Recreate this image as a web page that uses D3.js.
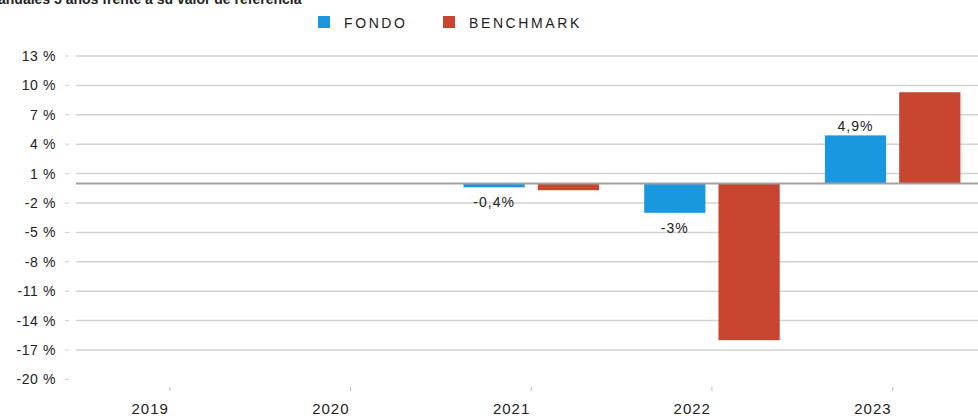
<!DOCTYPE html>
<html>
<head>
<meta charset="utf-8">
<script src="https://cdn.jsdelivr.net/npm/d3@7"></script>
<style>
  body { margin: 0; background: #fff; }
  svg { display: block; font-family: "Liberation Sans", Arial, sans-serif; }
</style>
</head>
<body>
<svg id="chart"></svg>
<script>
const years = ["2019", "2020", "2021", "2022", "2023"];
const series = ["FONDO", "BENCHMARK"];
const fondo = [null, null, -0.4, -3, 4.9];
const benchmark = [null, null, -0.7, -16, 9.3];
const fondoLabels = [null, null, "-0,4%", "-3%", "4,9%"];
const yTicks = [13, 10, 7, 4, 1, -2, -5, -8, -11, -14, -17, -20];
const colors = { FONDO: "#1a98df", BENCHMARK: "#c8452f" };

const width = 978;
const height = 416;
const svg = d3.select("#chart").attr("width", width).attr("height", height);

// Title (cut at top in the original)
svg.append("text")
  .attr("x", -2)
  .attr("y", 4)
  .style("font-size", "14px")
  .style("font-weight", "bold")
  .style("fill", "#222")
  .text("anuales 5 años frente a su valor de referencia");

// Scales
const x0 = d3.scaleBand().domain(years).range([79.5, 983]).paddingInner(0.25).paddingOuter(0.125);
const x1 = d3.scaleBand().domain(series).range([0, x0.bandwidth()]).paddingInner(0.176);
const y = d3.scaleLinear().domain([-20, 13]).range([379.4, 56]);

// Gridlines
svg.append("g")
  .selectAll("line")
  .data(yTicks.filter((d) => d !== -20))
  .join("line")
  .attr("x1", 76)
  .attr("x2", width)
  .attr("y1", (d) => y(d))
  .attr("y2", (d) => y(d))
  .attr("stroke", "#d2d2d2")
  .attr("stroke-width", 1.5);

// Y axis tick marks + labels
const yAxis = svg.append("g");
yAxis.selectAll("line")
  .data(yTicks)
  .join("line")
  .attr("x1", 65)
  .attr("x2", 69)
  .attr("y1", (d) => y(d))
  .attr("y2", (d) => y(d))
  .attr("stroke", "#ccc");
yAxis.selectAll("text")
  .data(yTicks)
  .join("text")
  .attr("x", 56)
  .attr("y", (d) => y(d))
  .attr("dy", "0.36em")
  .attr("text-anchor", "end")
  .style("font-size", "14px")
  .style("letter-spacing", "0.6px")
  .style("fill", "#222")
  .text((d) => d + " %");

// X axis tick marks + labels
const xAxis = svg.append("g");
xAxis.selectAll("line")
  .data(years)
  .join("line")
  .attr("x1", (d) => x0(d) + x0.bandwidth() / 2)
  .attr("x2", (d) => x0(d) + x0.bandwidth() / 2)
  .attr("y1", 387)
  .attr("y2", 391)
  .attr("stroke", "#bbb");
xAxis.selectAll("text")
  .data(years)
  .join("text")
  .attr("x", (d) => x0(d) + x0.bandwidth() / 2 - 1)
  .attr("y", 414)
  .attr("text-anchor", "end")
  .style("font-size", "15px")
  .style("letter-spacing", "1px")
  .style("fill", "#222")
  .text((d) => d);

// Bars
const rows = years.map((yr, i) => ({ year: yr, FONDO: fondo[i], BENCHMARK: benchmark[i], label: fondoLabels[i] }));
const groups = svg.append("g")
  .selectAll("g")
  .data(rows)
  .join("g")
  .attr("transform", (d) => `translate(${x0(d.year)},0)`);

groups.selectAll("rect")
  .data((d) => series.filter((s) => d[s] !== null).map((s) => ({ key: s, value: d[s] })))
  .join("rect")
  .attr("x", (d) => x1(d.key))
  .attr("width", x1.bandwidth())
  .attr("y", (d) => y(Math.max(0, d.value)))
  .attr("height", (d) => Math.abs(y(d.value) - y(0)))
  .attr("fill", (d) => colors[d.key]);

// Zero line
svg.append("line")
  .attr("x1", 76)
  .attr("x2", width)
  .attr("y1", y(0))
  .attr("y2", y(0))
  .attr("stroke", "#a0a0a0")
  .attr("stroke-width", 2);

// Value labels for FONDO
groups.filter((d) => d.label !== null)
  .append("text")
  .attr("x", x1("FONDO") + x1.bandwidth() / 2)
  .attr("y", (d) => (d.FONDO < 0 ? y(d.FONDO) + 20 : y(d.FONDO) - 4))
  .attr("text-anchor", "middle")
  .style("font-size", "14px")
  .style("letter-spacing", "1px")
  .style("fill", "#222")
  .text((d) => d.label);

// Legend
const legend = svg.append("g");
const legendX = [318, 443];
series.forEach((s, i) => {
  legend.append("rect")
    .attr("x", legendX[i])
    .attr("y", 16)
    .attr("width", 12)
    .attr("height", 12)
    .attr("fill", colors[s]);
  legend.append("text")
    .attr("x", legendX[i] + 26)
    .attr("y", 27.5)
    .style("font-size", "14px")
    .style("letter-spacing", "2.6px")
    .style("fill", "#222")
    .text(s);
});
</script>
</body>
</html>
